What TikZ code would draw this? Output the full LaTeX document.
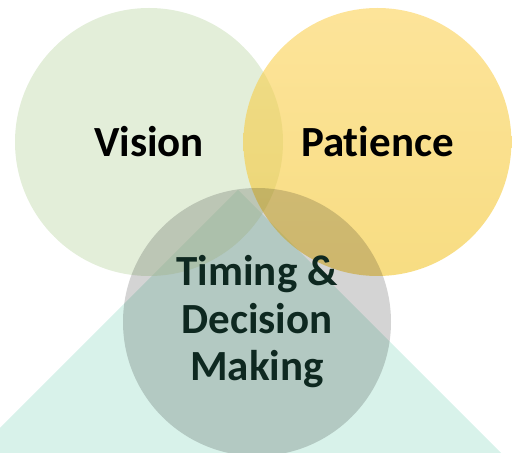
\documentclass[tikz,border=0pt]{standalone}
\usepackage{fontspec}
\setmainfont[Ligatures={NoCommon,NoContextual}]{Carlito}
\usetikzlibrary{positioning}

\definecolor{trianglefill}{RGB}{216,242,234}
\definecolor{visionfill}{RGB}{199,221,180}
\definecolor{patiencetop}{RGB}{251,208,80}
\definecolor{patiencebottom}{RGB}{242,196,40}
\definecolor{timingtext}{RGB}{14,40,32}

\begin{document}
\begin{tikzpicture}[x=1pt, y=1pt,
		ring/.style={circle, minimum size=268pt, inner sep=0pt, text opacity=1,
			font=\fontsize{43}{47.5}\selectfont\bfseries},
		vision ring/.style={ring, fill=visionfill, fill opacity=0.5},
		patience ring/.style={ring, top color=patiencetop, bottom color=patiencebottom, fill opacity=0.58},
		timing ring/.style={ring, fill=black, fill opacity=0.17, text=timingtext, align=center}]
		\useasboundingbox (0,0) rectangle (512,453);
		\fill[trianglefill] (0,0) -- (0,25) -- (238,263) -- (501,0) -- cycle;
		\node[vision ring] (vision) at (149,311) {Vision};
		\node[patience ring, right=-40pt of vision] (patience) {Patience};
		\node[timing ring] (timing) at (257,131) {Timing \&\\Decision\\Making};
	\end{tikzpicture}
\end{document}
